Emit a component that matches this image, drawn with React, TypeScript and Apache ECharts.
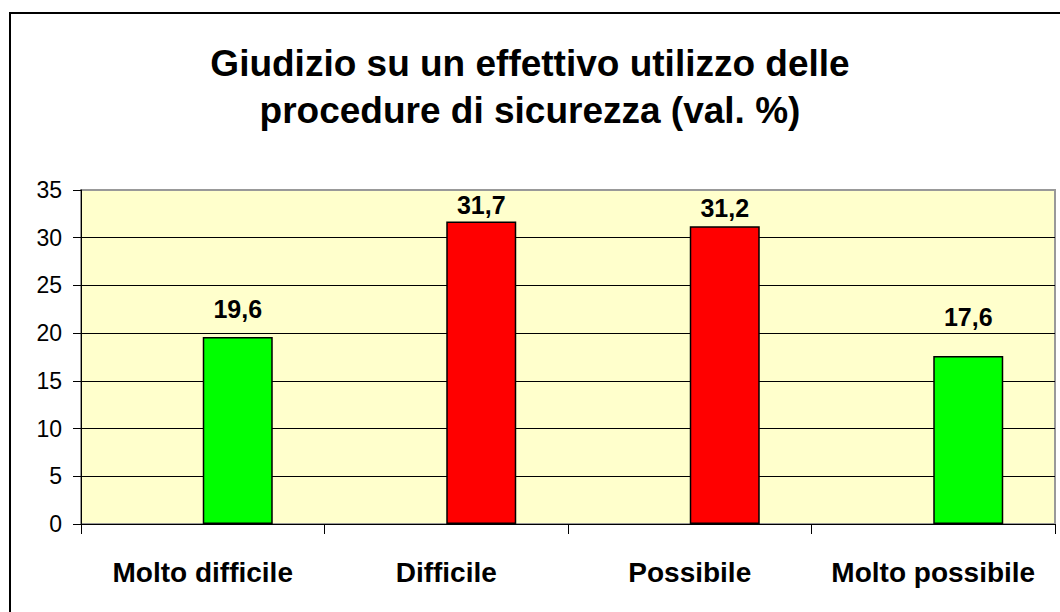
import React, { useEffect, useRef } from "react";
import * as echarts from "echarts";

const categories = ["Molto difficile", "Difficile", "Possibile", "Molto possibile"];
const values = [19.6, 31.7, 31.2, 17.6];
const barColors = ["#00FF00", "#FF0000", "#FF0000", "#00FF00"];
const titleLines = ["Giudizio su un effettivo utilizzo delle", "procedure di sicurezza (val. %)"];

// label gap above each bar (styling, px)
const labelDistances = [15, 3.5, 6, 27];

const FONT = "'Liberation Sans', Arial, sans-serif";

export default function App() {
  const ref = useRef<HTMLDivElement>(null);
  useEffect(() => {
    if (!ref.current) return;
    const chart = echarts.init(ref.current, undefined, { renderer: "svg" });
    chart.setOption({
      animation: false,
      backgroundColor: "#FFFFFF",
      textStyle: { fontFamily: FONT },
      title: {
        text: titleLines.join("\n"),
        left: "center",
        top: 35,
        textStyle: {
          fontFamily: FONT,
          fontWeight: "bold",
          fontSize: 37,
          lineHeight: 47,
          color: "#000",
        },
      },
      graphic: [
        {
          type: "rect",
          shape: { x: 10, y: 13, width: 1200, height: 800 },
          style: { fill: "none", stroke: "#000", lineWidth: 2 },
          silent: true,
        },
      ],
      grid: {
        left: 81,
        right: 5,
        top: 190,
        bottom: 88,
        show: true,
        backgroundColor: "#FFFFCC",
        borderColor: "#999999",
        borderWidth: 2,
      },
      xAxis: {
        type: "category",
        data: categories,
        axisLine: { show: true, lineStyle: { color: "#000", width: 1 } },
        axisTick: { show: true, length: 10, lineStyle: { color: "#000" } },
        axisLabel: {
          interval: 0,
          margin: 34,
          fontFamily: FONT,
          fontWeight: "bold",
          fontSize: 28,
          lineHeight: 28,
          color: "#000",
        },
        splitLine: { show: false },
      },
      yAxis: {
        type: "value",
        min: 0,
        max: 35,
        interval: 5,
        axisLine: { show: true, lineStyle: { color: "#000", width: 1 } },
        axisTick: { show: true, length: 8, lineStyle: { color: "#000" } },
        axisLabel: {
          margin: 19,
          fontFamily: FONT,
          fontSize: 23,
          color: "#000",
        },
        splitLine: {
          show: true,
          lineStyle: {
            color: ["#000", "#000", "#000", "#000", "#000", "#000", "#000", "#999"],
            width: 1,
          },
        },
      },
      series: [
        {
          type: "bar",
          data: categories.map(() => null),
          barWidth: 70,
          barGap: "0%",
        },
        {
          type: "bar",
          barWidth: 70,
          barGap: "0%",
          data: values.map((v, i) => ({
            value: v,
            itemStyle: { color: barColors[i], borderColor: "#000", borderWidth: 1.5 },
            label: { distance: labelDistances[i] },
          })),
          label: {
            show: true,
            position: "top",
            distance: 4,
            fontFamily: FONT,
            fontWeight: "bold",
            fontSize: 25,
            lineHeight: 25,
            color: "#000",
            formatter: (p: any) => Number(p.value).toFixed(1).replace(".", ","),
          },
        },
      ],
    });
    return () => chart.dispose();
  }, []);
  return (
    <div
      ref={ref}
      style={{ position: "absolute", left: 0, top: 0, width: 1060, height: 612 }}
    />
  );
}
